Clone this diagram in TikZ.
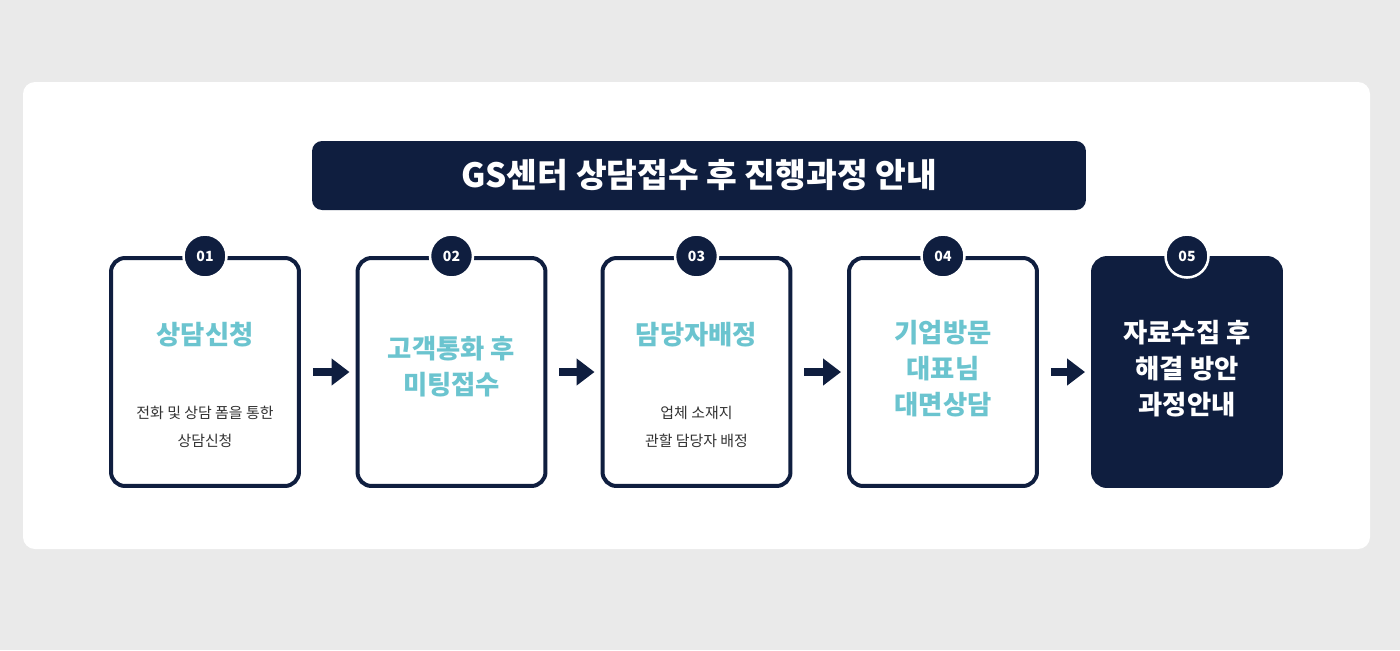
\documentclass[tikz,border=0pt]{standalone}
\usepackage{fontspec}
\setmainfont{Noto Sans CJK KR}
\usetikzlibrary{arrows.meta}
\definecolor{navy}{HTML}{0F1E3F}
\definecolor{teal}{HTML}{6BC4CF}
\definecolor{bggray}{HTML}{EAEAEA}
\definecolor{ink}{HTML}{333333}
\tikzset{
  stepbox/.style={draw=navy, line width=0.08cm, rounded corners=0.28cm, fill=white,
    minimum width=3.76cm, minimum height=4.56cm, inner sep=0pt},
  numdot/.style={circle, fill=navy, draw=white, line width=0.05cm, minimum size=0.86cm,
    inner sep=0pt, text=white, font=\bfseries\fontsize{8}{8}\selectfont},
  headtext/.style={text=teal, font=\bfseries\fontsize{15}{20.5}\selectfont, align=center},
  subtext/.style={text=ink, font=\fontsize{8.5}{16}\selectfont, align=center},
  flowarrow/.style={navy, line width=0.16cm, -{Triangle[length=0.36cm,width=0.52cm]},
    shorten <=0.24cm, shorten >=0.12cm}
}
\begin{document}
\begin{tikzpicture}[x=0.02cm, y=-0.02cm]
  % background and panel
  \fill[bggray] (0,0) rectangle (1400,650);
  \fill[white, rounded corners=0.24cm] (23,82) rectangle (1370,549);
  % title
  \node[fill=navy, rounded corners=0.2cm, minimum width=15.48cm, minimum height=1.38cm,
    text=white, font=\bfseries\fontsize{19}{19}\selectfont] (title) at (699,175.5)
    {GS센터 상담접수 후 진행과정 안내};
  % step boxes
  \node[stepbox] (b1) at (205,372) {};
  \node[stepbox] (b2) at (451.5,372) {};
  \node[stepbox] (b3) at (696.5,372) {};
  \node[stepbox] (b4) at (943,372) {};
  \node[stepbox, fill=navy] (b5) at (1187,372) {};
  % numbers
  \foreach \i in {1,...,5} {
    \node[numdot] (n\i) at (b\i.north) {0\i};
  }
  % texts
  \node[headtext] (h1) at (205,335) {상담신청};
  \node[subtext] (s1) at (205,427) {전화 및 상담 폼을 통한\\상담신청};
  \node[headtext] (h2) at (451.5,367) {고객통화 후\\미팅접수};
  \node[headtext] (h3) at (696.5,335) {담당자배정};
  \node[subtext] (s3) at (696.5,427) {업체 소재지\\관할 담당자 배정};
  \node[headtext] (h4) at (943,369) {기업방문\\대표님\\대면상담};
  \node[headtext, text=white] (h5) at (1187,369) {자료수집 후\\해결 방안\\과정안내};
  % arrows
  \foreach \a/\b in {1/2,2/3,3/4,4/5} {
    \draw[flowarrow] (b\a.east) -- (b\b.west);
  }
\end{tikzpicture}
\end{document}
